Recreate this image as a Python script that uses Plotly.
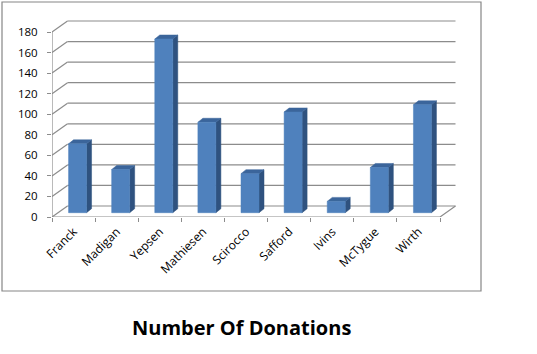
import plotly.graph_objects as go

# ---- data ----
names = ["Franck", "Madigan", "Yepsen", "Mathiesen", "Scirocco",
         "Safford", "Ivins", "McTygue", "Wirth"]
donations = [67, 42, 169, 88, 38, 98, 11, 44, 105]
y_ticks = [0, 20, 40, 60, 80, 100, 120, 140, 160, 180]
chart_title = "Number Of Donations"

# ---- geometry (pixels) ----
W, H = 537, 354
ML, MR, MT, MB = 52, 77, 15, 137
n = len(names)
px_x = (440 - ML) / n            # pixels per category
px_y = 185 / 180                 # pixels per value unit
plot_w = W - ML - MR
plot_h = H - MT - MB
x_range = [0, plot_w / px_x]
y_range = [0, plot_h / px_y]

def ux(p):  # pixel width -> x units
    return p / px_x

def uy(p):  # pixel height -> y units
    return p / px_y

WALL_DX, WALL_DY = ux(15.5), uy(11)
BAR_OX, BAR_OY = ux(4), uy(4.3)
BAR_W = ux(18)
BAR_DX, BAR_DY = ux(5), uy(4)
ymax = max(y_ticks)

GRID = "#8c8c8c"
FRONT = "#4f81bd"
SIDE = "#2f527f"
TOP = "#3b659b"

fig = go.Figure()

# back wall gridlines
gx, gy = [], []
for v in y_ticks:
    gx += [WALL_DX, n + WALL_DX, None]
    gy += [v + WALL_DY, v + WALL_DY, None]
# left wall diagonals
for v in y_ticks:
    gx += [0, WALL_DX, None]
    gy += [v, v + WALL_DY, None]
# floor: front edge, right diagonal, front-left vertical edge
gx += [0, n, n + WALL_DX, None, 0, 0, None]
gy += [0, 0, WALL_DY, None, 0, ymax, None]
fig.add_trace(go.Scatter(x=gx, y=gy, mode="lines",
                         line=dict(color=GRID, width=1.2),
                         hoverinfo="skip", showlegend=False))

# bars
fx, fy, sx, sy, tx, ty = [], [], [], [], [], []
for i, v in enumerate(donations):
    x0 = i + 0.5 + BAR_OX - BAR_W / 2
    x1 = x0 + BAR_W
    y0 = BAR_OY
    y1 = BAR_OY + v
    fx += [x0, x1, x1, x0, x0, None]
    fy += [y0, y0, y1, y1, y0, None]
    sx += [x1, x1 + BAR_DX, x1 + BAR_DX, x1, x1, None]
    sy += [y0, y0 + BAR_DY, y1 + BAR_DY, y1, y0, None]
    tx += [x0, x1, x1 + BAR_DX, x0 + BAR_DX, x0, None]
    ty += [y1, y1, y1 + BAR_DY, y1 + BAR_DY, y1, None]

for xs, ys, col in [(sx, sy, SIDE), (tx, ty, TOP), (fx, fy, FRONT)]:
    fig.add_trace(go.Scatter(x=xs, y=ys, mode="lines", fill="toself",
                             fillcolor=col, line=dict(color=col, width=0.5),
                             hoverinfo="skip", showlegend=False))

# invisible trace to bind xaxis2
fig.add_trace(go.Scatter(x=[0.5], y=[0], xaxis="x2", mode="markers",
                         marker=dict(opacity=0), hoverinfo="skip",
                         showlegend=False))

font_family = "Open Sans, DejaVu Sans, sans-serif"

# chart border in paper coords
def pxp(p):
    return (p - ML) / plot_w

def pyp(p):
    return (H - MB - p) / plot_h

fig.update_layout(
    width=W, height=H,
    margin=dict(l=ML, r=MR, t=MT, b=MB),
    paper_bgcolor="white", plot_bgcolor="white",
    font=dict(family=font_family, size=11, color="#000000"),
    xaxis=dict(range=x_range, tickmode="array",
               tickvals=list(range(n + 1)), ticktext=[""] * (n + 1),
               ticks="outside", ticklen=4, tickcolor=GRID, tickwidth=1,
               showgrid=False, zeroline=False, showline=False,
               fixedrange=True),
    xaxis2=dict(range=x_range, overlaying="x", anchor="y", side="bottom",
                tickmode="array", tickvals=[i + 0.5 for i in range(n)],
                ticktext=names, tickangle=-45, ticks="outside", ticklen=2,
                tickcolor="rgba(0,0,0,0)",
                showgrid=False, zeroline=False, showline=False,
                tickfont=dict(size=12, color="#000000")),
    yaxis=dict(range=y_range, tickmode="array", tickvals=y_ticks,
               ticktext=[str(v) for v in y_ticks],
               ticks="outside", ticklen=4, tickcolor=GRID, tickwidth=1,
               ticklabelstandoff=7,
               showgrid=False, zeroline=False, showline=False,
               tickfont=dict(size=11.5, color="#000000")),
    shapes=[dict(type="rect", xref="paper", yref="paper",
                 x0=pxp(2), x1=pxp(481), y0=pyp(291), y1=pyp(2),
                 line=dict(color="#868686", width=1.2),
                 fillcolor="rgba(0,0,0,0)", layer="below")],
    annotations=[dict(text="<b>" + chart_title + "</b>", xref="paper",
                      yref="paper", x=pxp(241), y=pyp(327),
                      xanchor="center", yanchor="middle", showarrow=False,
                      font=dict(size=20, color="#000000",
                                family=font_family))],
)

fig.write_html("out.html")
